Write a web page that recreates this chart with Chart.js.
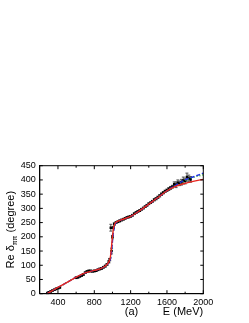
<!DOCTYPE html>
<html><head><meta charset="utf-8">
<script src="https://cdn.jsdelivr.net/npm/chart.js@4"></script>
<style>html,body{margin:0;padding:0;background:#fff}canvas{display:block}</style>
</head><body>
<canvas id="c" width="249" height="323" style="width:249px;height:323px"></canvas>
<script>
// Data
const dataE   = [285,300,320,340,360,380,400,420,
  600,620,640,660,680,700,720,740,760,780,800,820,840,860,880,900,920,940,960,970,982,990,1000,1010,1020,1040,1060,1080,
  1100,1120,1140,1160,1180,1200,1220,1240,1260,1280,1300,1320,1340,1360,1380,1400,1420,1440,1460,1480,1500,1520,1540,1560,1580,1600,1620,1640,1660,1680,1700,1720,1740,1760,1780,1800,1820,1840,1860];
const dataDelta = [2,5,8,11,14,17,19,22,
  56,58,61,64,68,74,78,80,80,79,80,81,84,87,89,93,97,103,112,120,232,150,200,232,245,250,253,256,
  259,262,265,268,270,272,276,281,285,289,292,297,301,306,311,316,320,325,330,334,339,344,350,355,360,364,368,372,376,385,383,390,388,392,398,396,410,405,402];
const dataErr = [2,2,2,2,2,2,2,2,
  3,3,3,3,3,3,3,3,3,3,3,3,3,3,3,3,3,3,4,4,12,10,5,4,4,3,3,3,
  3,3,3,3,3,3,3,3,3,3,3,3,3,3,3,3,3,3,4,4,4,4,4,4,4,4,5,5,5,8,10,10,8,10,12,10,14,12,10];
const fitE      = [280,300,350,400,500,600,700,800,850,900,940,960,975,985,995,1005,1015,1030,1050,1100,1200,1300,1400,1500,1600,1700,1800,1900,2000];
const redFit    = [0,4,13,22,40,58,73,82,86,93,103,112,125,150,185,215,235,248,253,260,272,292,315,338,362,378,388,396,402];
const blueFit   = [0,4,13,22,40,58,73,82,86,93,102,109,118,135,165,200,225,244,252,260,272,292,315,338,362,382,400,412,424];
const greenFit  = [0,4,13,22,40,58,73,82,86,93,102,110,120,140,172,205,230,246,252,260,272,292,315,338,362,380,398,410,418];
const xTicks = [400,800,1200,1600,2000];
const xMinor = [600,1000,1400,1800];
const yTicks = [0,50,100,150,200,250,300,350,400,450];

const FONT = "'Liberation Sans', Arial, sans-serif";
const pts = (xs, ys) => xs.map((x,i)=>({x:x,y:ys[i]}));

const decor = {
  id:'decor',
  beforeDatasetsDraw(chart){
    const ctx = chart.ctx, xs = chart.scales.x, ys = chart.scales.y;
    ctx.save(); ctx.strokeStyle='#555'; ctx.lineWidth=1;
    dataE.forEach((e,i)=>{
      const px = xs.getPixelForValue(e);
      const y1 = ys.getPixelForValue(dataDelta[i]-dataErr[i]);
      const y2 = ys.getPixelForValue(dataDelta[i]+dataErr[i]);
      ctx.beginPath(); ctx.moveTo(px,y1); ctx.lineTo(px,y2);
      ctx.moveTo(px-1.5,y1); ctx.lineTo(px+1.5,y1);
      ctx.moveTo(px-1.5,y2); ctx.lineTo(px+1.5,y2); ctx.stroke();
    });
    ctx.restore();
  },
  afterDraw(chart){
    const ctx = chart.ctx, xs = chart.scales.x, ys = chart.scales.y, a = chart.chartArea;
    ctx.save();
    ctx.strokeStyle='#000'; ctx.lineWidth=1;
    ctx.strokeRect(a.left, a.top, a.right-a.left, a.bottom-a.top);
    ctx.beginPath();
    xTicks.forEach(v=>{const p=xs.getPixelForValue(v);
      ctx.moveTo(p,a.bottom); ctx.lineTo(p,a.bottom-3.5);
      ctx.moveTo(p,a.top); ctx.lineTo(p,a.top+3.5);});
    xMinor.forEach(v=>{const p=xs.getPixelForValue(v);
      ctx.moveTo(p,a.bottom); ctx.lineTo(p,a.bottom-2);
      ctx.moveTo(p,a.top); ctx.lineTo(p,a.top+2);});
    yTicks.forEach(v=>{const p=ys.getPixelForValue(v);
      ctx.moveTo(a.left,p); ctx.lineTo(a.left+3,p);
      ctx.moveTo(a.right,p); ctx.lineTo(a.right-3,p);});
    ctx.stroke();
    // axis titles
    ctx.fillStyle='#000';
    ctx.font = "11px "+FONT;
    ctx.textAlign='center'; ctx.textBaseline='middle';
    ctx.fillText('(a)', 131.5, 312);
    ctx.fillText('E (MeV)', 183, 312);
    // y title with subscript
    ctx.translate(10, (a.top+a.bottom)/2);
    ctx.rotate(-Math.PI/2);
    const main1='Re δ', sub='ππ', main2=' (degree)';
    ctx.font="11px "+FONT; const w1=ctx.measureText(main1).width, w3=ctx.measureText(main2).width;
    ctx.font="7px "+FONT; const w2=ctx.measureText(sub).width;
    let x0 = -(w1+w2+w3)/2;
    ctx.textAlign='left'; ctx.textBaseline='alphabetic';
    ctx.font="11px "+FONT; ctx.fillText(main1, x0, 4);
    ctx.font="7px "+FONT; ctx.fillText(sub, x0+w1, 6.5);
    ctx.font="11px "+FONT; ctx.fillText(main2, x0+w1+w2, 4);
    ctx.restore();
  }
};

new Chart(document.getElementById('c'), {
  type:'scatter',
  data:{datasets:[
    {label:'red', data:pts(fitE,redFit), showLine:true, borderColor:'#e8261f', borderWidth:1.4, pointRadius:0, fill:false, tension:0.35},
    {label:'blue', data:pts(fitE,blueFit), showLine:true, borderColor:'#1f2fe8', borderWidth:1.4, borderDash:[4,2], pointRadius:0, fill:false, tension:0.35},
    {label:'green', data:pts(fitE,greenFit), showLine:true, borderColor:'#1fb51f', borderWidth:1.4, borderDash:[1,2], pointRadius:0, fill:false, tension:0.35},
    {label:'data', data:pts(dataE,dataDelta), pointStyle:'rect', pointRadius:1.8, backgroundColor:'#000', borderColor:'#000', borderWidth:0, showLine:false}
  ]},
  options:{
    responsive:false, animation:false, devicePixelRatio:1,
    layout:{padding:{top:165.7, right:45.7, left:0, bottom:0}},
    plugins:{legend:{display:false}, tooltip:{enabled:false}},
    scales:{
      x:{type:'linear', min:200, max:2000,
        afterFit:s=>{s.height=29.3;},
        afterBuildTicks:s=>{s.ticks=xTicks.map(v=>({value:v}));},
        grid:{display:false, drawTicks:false}, border:{display:true,color:'#000'},
        ticks:{font:{size:9,family:FONT}, color:'#000', padding:3, maxRotation:0, autoSkip:false, callback:v=>String(v)}},
      y:{type:'linear', min:0, max:450,
        afterFit:s=>{s.width=39.8;},
        afterBuildTicks:s=>{s.ticks=yTicks.map(v=>({value:v}));},
        grid:{display:false, drawTicks:false}, border:{display:true,color:'#000'},
        ticks:{font:{size:9,family:FONT}, color:'#000', padding:4, autoSkip:false, callback:v=>String(v)}}
    }
  },
  plugins:[decor]
});
</script>
</body></html>
